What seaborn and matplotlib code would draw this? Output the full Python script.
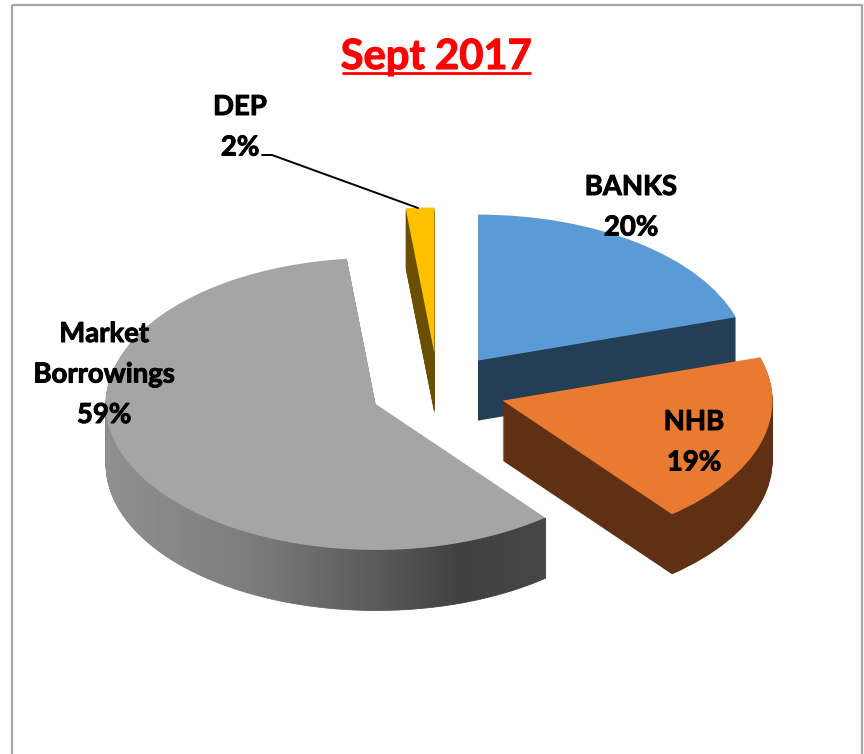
import numpy as np
import seaborn as sns
import matplotlib
matplotlib.use("Agg")
import matplotlib.pyplot as plt
import matplotlib.patheffects as pe
from matplotlib.patches import Rectangle
from matplotlib.transforms import Affine2D

# slice sizes (percent), clockwise from 12 o'clock
labels = ["BANKS", "NHB", "Market\nBorrowings", "DEP"]
values = [20.2, 19.0, 59.1, 1.7]
pct_labels = ["20%", "19%", "59%", "2%"]
top_colors = ["#5B9BD5", "#E97B31", "#A5A5A5", "#FFC000"]
side_colors = ["#243E55", "#5F3013", "#5A5A5A", "#6B4F00"]
draw_order = [0, 3, 2, 1]

W, H = 864, 754
CX, CY = 438, 390      # pie centre, pixels
RX, RY = 270, 146      # squashed radius, pixels
DEPTH = 60             # extrusion, pixels
EXPLODE = 0.25

sns.set_theme(style="white")
plt.rcParams["font.family"] = ["Lato", "DejaVu Sans"]

fig = plt.figure(figsize=(W / 100, H / 100), dpi=100)
ax = fig.add_axes([0, 0, 1, 1])
px = Affine2D().scale(1 / W, -1 / H).translate(0, 1) + fig.transFigure

# stack of pies from the bottom up makes the 3D side walls
for level in range(DEPTH, -1, -1):
    colors = top_colors if level == 0 else side_colors
    wedges, _ = ax.pie(values, explode=[EXPLODE] * len(values), colors=colors,
                       startangle=90, counterclock=False, radius=1,
                       center=(0, -level / RY), wedgeprops={"linewidth": 0})
    for i, w in enumerate(wedges):
        w.set_zorder(10 * (draw_order.index(i) + 1) + (5 if level == 0 else 0))

ax.set_aspect("auto")
ax.set_xlim(-CX / RX, (W - CX) / RX)
ax.set_ylim((CY - H) / RY, CY / RY)
ax.axis("off")

# gradient on the outer wall of the big grey slice
edges = np.cumsum([0] + values) / sum(values) * 2 * np.pi
start, end = edges[2], edges[3]
mid = (start + end) / 2
theta = np.linspace(start, 1.5 * np.pi, 160)
xs = np.sin(theta) + EXPLODE * np.sin(mid)
ys = np.cos(theta) + EXPLODE * np.cos(mid)
shade_px = [107, 250, 357, 460, 546]
shade_val = [0x90, 0x7D, 0x5F, 0x41, 0x46]
for j in range(len(theta) - 1):
    g = np.interp(CX + RX * xs[j:j + 2].mean(), shade_px, shade_val) / 255
    ax.fill_between(xs[j:j + 2], ys[j:j + 2], ys[j:j + 2] - DEPTH / RY,
                    color=(g, g, g), linewidth=0.6, zorder=32)

# chart border, open at the bottom of the crop
fig.add_artist(Rectangle((12, 5), 850, 780, transform=px, fill=False,
                         edgecolor="#A6A6A6", linewidth=1.6))

# title with underline
fig.text(436, 69, "Sept 2017", transform=px, color="#FF0000", fontsize=30,
         fontweight="bold", ha="center", va="baseline",
         path_effects=[pe.withStroke(linewidth=0.8, foreground="#FF0000")])
fig.add_artist(plt.Line2D([343, 530], [73, 73], transform=px, color="#FF0000", linewidth=2))

# data labels
label_pos = {"BANKS": (631, 187), "NHB": (694, 422), "Market\nBorrowings": (104, 334), "DEP": (240, 107)}
bold = [pe.withStroke(linewidth=0.7, foreground="black")]
for name, pct in zip(labels, pct_labels):
    x, y = label_pos[name]
    for k, line in enumerate(name.split("\n") + [pct]):
        fig.text(x, y + 40.5 * k, line, transform=px, color="black", fontsize=19.8,
                 fontweight="bold", ha="center", va="center", zorder=60, path_effects=bold)

# leader line for DEP
fig.add_artist(plt.Line2D([262, 272, 418], [155, 155, 208], transform=px, color="black", linewidth=1.4))

fig.savefig("out.png", dpi=100, facecolor="white")
